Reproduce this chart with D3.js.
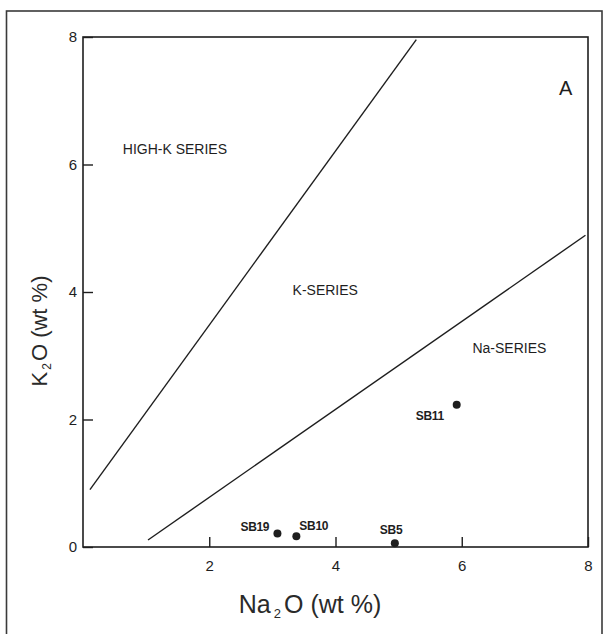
<!DOCTYPE html>
<html><head><meta charset="utf-8">
<script src="https://cdn.jsdelivr.net/npm/d3@7"></script>
<style>
html,body{margin:0;padding:0;background:#fff;}
svg{display:block;font-family:"Liberation Sans",Arial,sans-serif;}
</style></head>
<body><svg id="c" width="607" height="634"></svg>
<script>
// Data
const xTicks = [2, 4, 6, 8];
const yTicks = [0, 2, 4, 6, 8];
const sampleNames = ["SB19", "SB10", "SB5", "SB11"];
const na2o = [3.08, 3.38, 4.94, 5.92];
const k2o = [0.21, 0.17, 0.06, 2.23];
const highKBoundary = [[0.11, 0.90], [5.28, 7.96]];
const naBoundary = [[1.03, 0.11], [7.96, 4.89]];
const regionNames = ["HIGH-K SERIES", "K-SERIES", "Na-SERIES"];
const regionPos = [[0.63, 6.17], [3.32, 3.95], [6.17, 3.05]];
const panelLabel = "A";

const svg = d3.select("#c");
const L = 83, R = 588, T = 37, B = 547;
const x = d3.scaleLinear().domain([0, 8]).range([L, R]);
const y = d3.scaleLinear().domain([0, 8]).range([B, T]);
const ink = "#1e1e1e";

// outer frame
svg.append("rect").attr("x", 6.5).attr("y", 11).attr("width", 595.5).attr("height", 640)
  .attr("fill", "none").attr("stroke", "#3a3a3a").attr("stroke-width", 1.6);

// plot frame
svg.append("rect").attr("x", L).attr("y", T).attr("width", R - L).attr("height", B - T)
  .attr("fill", "none").attr("stroke", ink).attr("stroke-width", 1.6);

// axes
const gx = svg.append("g").attr("transform", `translate(0,${B})`)
  .call(d3.axisBottom(x).tickValues(xTicks).tickSize(-10).tickPadding(13).tickFormat(d3.format("d")));
const gy = svg.append("g").attr("transform", `translate(${L},0)`)
  .call(d3.axisLeft(y).tickValues(yTicks).tickSize(-10).tickPadding(6).tickFormat(d3.format("d")));
[gx, gy].forEach(g => {
  g.select(".domain").remove();
  g.attr("font-size", 15).attr("font-family", "'Liberation Sans',Arial,sans-serif");
  g.selectAll(".tick line").attr("stroke", ink).attr("stroke-width", 1.4);
  g.selectAll(".tick text").attr("fill", ink).style("font-size", "15px");
});

// boundary lines
const line = d3.line().x(d => x(d[0])).y(d => y(d[1]));
[highKBoundary, naBoundary].forEach(seg => {
  svg.append("path").attr("d", line(seg)).attr("fill", "none")
    .attr("stroke", ink).attr("stroke-width", 1.4);
});

// region labels
regionNames.forEach((t, i) => {
  svg.append("text").attr("x", x(regionPos[i][0])).attr("y", y(regionPos[i][1]))
    .attr("fill", ink).style("font-size", "14px").text(t);
});
svg.append("text").attr("x", 559).attr("y", 95).attr("fill", ink)
  .style("font-size", "20px").text(panelLabel);

// points
svg.append("g").selectAll("circle").data(sampleNames).join("circle")
  .attr("cx", (d, i) => x(na2o[i])).attr("cy", (d, i) => y(k2o[i]))
  .attr("r", 4).attr("fill", ink);

// point labels (offsets relative to points)
const lblOff = [[-37, -3], [3, -6], [-15, -9], [-41, 15]];
svg.append("g").selectAll("text").data(sampleNames).join("text")
  .attr("x", (d, i) => x(na2o[i]) + lblOff[i][0])
  .attr("y", (d, i) => y(k2o[i]) + lblOff[i][1])
  .attr("fill", ink).style("font-size", "12px").style("font-weight", "600")
  .style("letter-spacing", "-0.3px").text(d => d);

// axis titles
const xt = svg.append("text").attr("x", 310).attr("y", 613).attr("text-anchor", "middle")
  .attr("fill", "#2a2a2a").style("font-size", "25px");
xt.append("tspan").text("Na");
xt.append("tspan").attr("dx", 3).attr("dy", 5).style("font-size", "13px").text("2");
xt.append("tspan").attr("dx", 3).attr("dy", -5).text("O (wt %)");

const yt = svg.append("text").attr("transform", "translate(47,331) rotate(-90)")
  .attr("text-anchor", "middle").attr("fill", "#2a2a2a").style("font-size", "22px");
yt.append("tspan").text("K");
yt.append("tspan").attr("dx", 2).attr("dy", 4).style("font-size", "12px").text("2");
yt.append("tspan").attr("dx", 2).attr("dy", -4).text("O (wt %)");
</script></body></html>
